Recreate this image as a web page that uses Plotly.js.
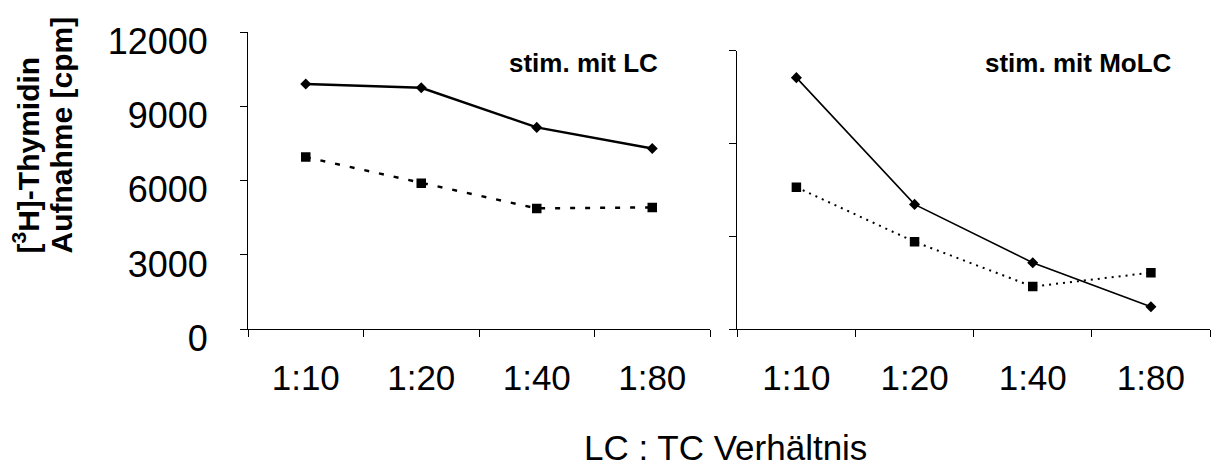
<!DOCTYPE html>
<html>
<head>
<meta charset="utf-8">
<script src="https://cdn.plot.ly/plotly-3.0.1.min.js"></script>
<style>html,body{margin:0;padding:0;background:#fff;}#chart{width:1218px;height:468px;}</style>
</head>
<body>
<div id="chart"></div>
<script>
// Categories (LC : TC ratio)
var ratios = ["1:10", "1:20", "1:40", "1:80"];

// Left panel: stimulated with LCs
var lcSolid = [9900, 9750, 8150, 7300];
var lcDashed = [6950, 5900, 4880, 4920];

// Right panel: stimulated with MoLCs
var molcSolid = [10840, 5380, 2870, 970];
var molcDotted = [6120, 3770, 1840, 2440];

// Text
var yTitleLine1 = "[<sup>3</sup>H]-Thymidin";
var yTitleLine2 = "Aufnahme [cpm]";
var xTitle = "LC : TC Verhältnis";
var panelLeft = "stim. mit LC";
var panelRight = "stim. mit MoLC";

var FONT = "Liberation Sans, Arial, Helvetica, sans-serif";
var W = 1218, H = 468;
function px(x) { return x / W; }
function py(y) { return (H - y) / H; }

var traces = [
  {x: ratios, y: lcSolid, xaxis: "x", yaxis: "y", mode: "lines+markers",
   line: {color: "#000", width: 2.5}, marker: {symbol: "diamond", size: 8.5, color: "#000"}},
  {x: ratios, y: lcDashed, xaxis: "x", yaxis: "y", mode: "lines+markers",
   line: {color: "#000", width: 2.5, dash: "5px,10px"}, marker: {symbol: "square", size: 9.5, color: "#000"}},
  {x: ratios, y: molcSolid, xaxis: "x2", yaxis: "y2", mode: "lines+markers",
   line: {color: "#000", width: 1.6}, marker: {symbol: "diamond", size: 8.5, color: "#000"}},
  {x: ratios, y: molcDotted, xaxis: "x2", yaxis: "y2", mode: "lines+markers",
   line: {color: "#000", width: 2, dash: "2px,5px"}, marker: {symbol: "square", size: 9.5, color: "#000"}}
];

var xCommon = {
  type: "category", tickson: "boundaries", ticks: "outside", ticklen: 7, tickcolor: "#000", tickwidth: 1,
  showline: true, linecolor: "#000", linewidth: 1, showgrid: false, zeroline: false,
  tickfont: {family: FONT, size: 35, color: "#000"}, ticklabelstandoff: 18, automargin: false,
  range: [-0.5, 3.5], fixedrange: true
};
var yCommon = {
  ticks: "outside", ticklen: 7, tickcolor: "#000", tickwidth: 1,
  showline: true, linecolor: "#000", linewidth: 1, showgrid: false, zeroline: false,
  tickformat: "d",
  tickfont: {family: FONT, size: 36, color: "#000"}, automargin: false, fixedrange: true
};

var layout = {
  width: W, height: H,
  margin: {l: 0, r: 0, t: 0, b: 0},
  paper_bgcolor: "#fff", plot_bgcolor: "rgba(0,0,0,0)",
  showlegend: false,
  font: {family: FONT, color: "#000"},
  xaxis: Object.assign({}, xCommon, {domain: [px(248), px(710)], anchor: "y"}),
  xaxis2: Object.assign({}, xCommon, {domain: [px(737.3), px(1210)], anchor: "y2"}),
  yaxis: Object.assign({}, yCommon, {domain: [py(329.3), py(32)], anchor: "x", range: [0, 12000], dtick: 3000,
    ticklabelstandoff: 25, ticklabelshift: 9}),
  yaxis2: Object.assign({}, yCommon, {domain: [py(329.3), py(50.7)], anchor: "x2", range: [0, 12000], dtick: 4000,
    showticklabels: false}),
  annotations: [
    {text: "<b>" + yTitleLine1 + "</b>", xref: "paper", yref: "paper", x: px(26), y: py(256),
     xanchor: "center", yanchor: "bottom", textangle: -90, showarrow: false,
     font: {family: FONT, size: 30, color: "#000"}},
    {text: "<b>" + yTitleLine2 + "</b>", xref: "paper", yref: "paper", x: px(61), y: py(256),
     xanchor: "center", yanchor: "bottom", textangle: -90, showarrow: false,
     font: {family: FONT, size: 30, color: "#000"}},
    {text: xTitle, xref: "paper", yref: "paper", x: px(725), y: py(447),
     xanchor: "center", yanchor: "middle", showarrow: false,
     font: {family: FONT, size: 35, color: "#000"}},
    {text: "<b>" + panelLeft + "</b>", xref: "paper", yref: "paper", x: px(507), y: py(63),
     xanchor: "left", yanchor: "middle", showarrow: false,
     font: {family: FONT, size: 26, color: "#000"}},
    {text: "<b>" + panelRight + "</b>", xref: "paper", yref: "paper", x: px(983), y: py(63),
     xanchor: "left", yanchor: "middle", showarrow: false,
     font: {family: FONT, size: 26, color: "#000"}}
  ]
};

Plotly.newPlot("chart", traces, layout, {displayModeBar: false, staticPlot: true});
</script>
</body>
</html>
